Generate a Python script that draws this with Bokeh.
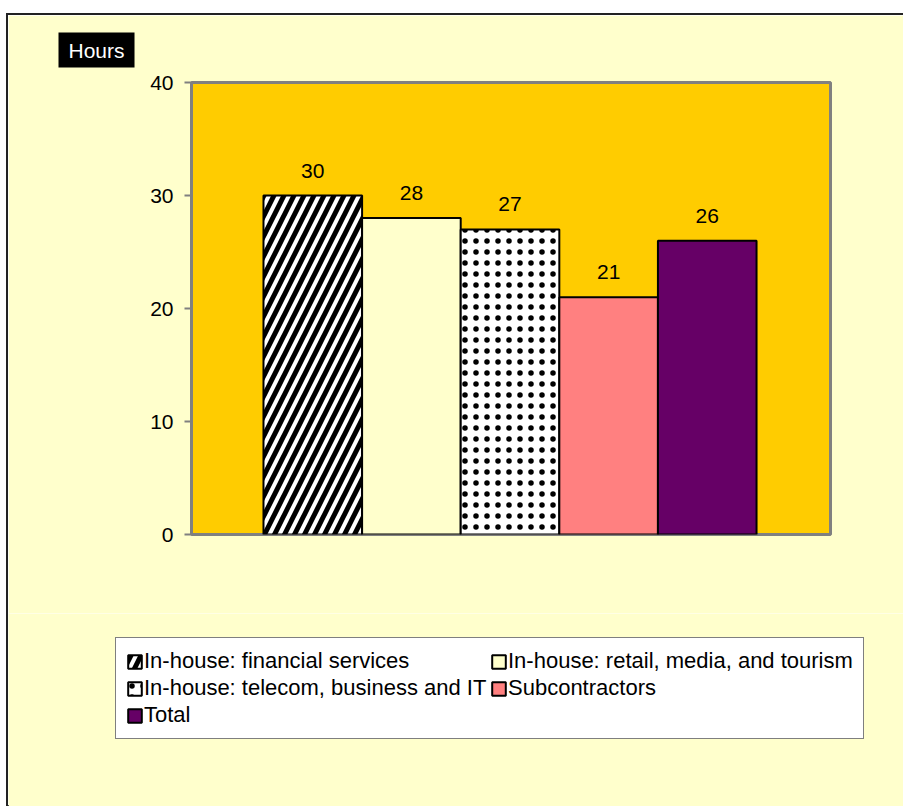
from bokeh.plotting import figure
from bokeh.models import Range1d, Legend, LegendItem, Title, ColumnDataSource
from bokeh.embed import file_html
from bokeh.resources import INLINE
from bokeh.core.properties import value

categories = ["In-house: financial services",
              "In-house: retail, media, and tourism",
              "In-house: telecom, business and IT",
              "Subcontractors",
              "Total"]
hours = [30, 28, 27, 21, 26]
y_ticks = [0, 10, 20, 30, 40]

fills = ["#FFFFFF", "#FFFFCC", "#FFFFFF", "#FF8080", "#660066"]
hatches = ["/", None, ".", None, None]

FONT = "Liberation Sans"
BG = "#FFFFCC"
BORDER = "2px solid #222222"


def hatch_kw(h):
    if h == "/":
        return dict(hatch_pattern="/", hatch_color="#000000", hatch_weight=5, hatch_scale=20)
    if h == ".":
        return dict(hatch_pattern=".", hatch_color="#000000", hatch_weight=0.5, hatch_scale=11)
    return {}


# ---- main chart ----
p = figure(width=897, height=600, output_backend="svg", toolbar_location=None,
           x_range=Range1d(-0.23, 6.25), y_range=Range1d(0, 40),
           x_axis_location=None,
           min_border_left=183, min_border_right=75, min_border_top=67, min_border_bottom=81,
           background_fill_color="#FFCC00", border_fill_color=BG,
           outline_line_color="#808080", outline_line_width=3,
           margin=(13, 0, 0, 6),
           styles={"border-top": BORDER, "border-left": BORDER})

p.xgrid.visible = False
p.ygrid.visible = False

ya = p.yaxis[0]
ya.ticker = y_ticks
ya.axis_line_color = "#808080"
ya.axis_line_width = 2
ya.major_tick_line_color = "#808080"
ya.major_tick_line_width = 2
ya.major_tick_out = 7
ya.major_tick_in = 0
ya.minor_tick_line_color = None
ya.major_label_text_font = FONT
ya.major_label_text_font_size = "21px"
ya.major_label_text_color = "#000000"
ya.major_label_standoff = 11

sources = []
for i, v in enumerate(hours):
    src = ColumnDataSource(dict(x=[i + 1], top=[v]))
    sources.append(src)
    p.vbar(x="x", top="top", width=1, bottom=0, source=src,
           fill_color=fills[i], line_color="#000000", line_width=2, **hatch_kw(hatches[i]))

lab_src = ColumnDataSource(dict(x=[i + 1 for i in range(len(hours))], y=hours,
                                t=[str(v) for v in hours]))
p.text(x="x", y="y", text="t", source=lab_src, text_align="center",
       text_baseline="alphabetic", y_offset=-25, text_font=value(FONT),
       text_font_size="21px", text_color="#000000")

p.title = Title(text="Hours", align="left", offset=-133, vertical_align="bottom",
                standoff=30, text_font=FONT, text_font_size="21px",
                text_font_style="normal", text_color="#FFFFFF",
                background_fill_color="#000000", padding=(10, 6))

# ---- legend strip (separate root, so its frame is not aligned to the chart's) ----
lg = figure(width=897, height=193, output_backend="svg", toolbar_location=None,
            x_range=Range1d(100, 101), y_range=Range1d(100, 101),
            x_axis_location=None, y_axis_location=None,
            min_border=0, min_border_left=0, min_border_right=0,
            min_border_top=0, min_border_bottom=0,
            background_fill_color=BG, border_fill_color=BG, outline_line_color=None,
            margin=(0, 0, 0, 6), styles={"border-left": BORDER})
lg.xgrid.visible = False
lg.ygrid.visible = False

items = []
for i, cat in enumerate(categories):
    r = lg.vbar(x="x", top="top", width=1, bottom=0, source=sources[i],
                fill_color=fills[i], line_color="#000000", line_width=2, **hatch_kw(hatches[i]))
    items.append(LegendItem(label=cat, renderers=[r]))

legend = Legend(items=items, location=(107, 67), orientation="horizontal", ncols=2,
                label_text_font=FONT, label_text_font_size="22px", label_text_color="#000000",
                glyph_width=17, glyph_height=17, label_standoff=1,
                spacing=1, padding=10, margin=0,
                border_line_color="#000000", border_line_width=1,
                background_fill_color="#FFFFFF", background_fill_alpha=1.0,
                label_height=22, label_width=345)
lg.add_layout(legend, "center")

open("out.html", "w").write(file_html([p, lg], INLINE))
